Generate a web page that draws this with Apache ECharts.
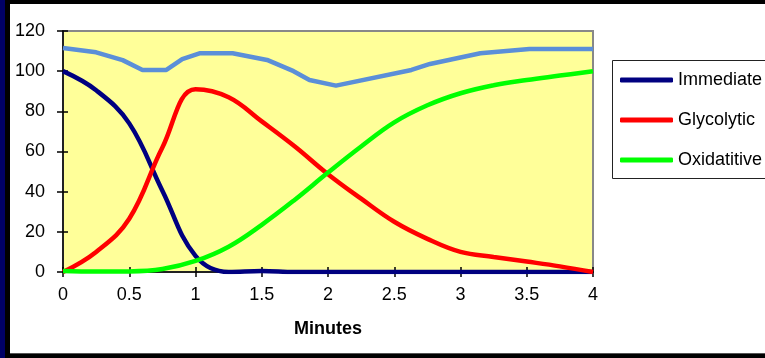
<!DOCTYPE html>
<html>
<head>
<meta charset="utf-8">
<script src="https://cdn.jsdelivr.net/npm/echarts@6/dist/echarts.min.js"></script>
<style>
  html, body { margin: 0; padding: 0; background: #000; }
  #chart { width: 765px; height: 358px; }
</style>
</head>
<body>
<div id="chart"></div>
<script>
// Energy system contributions over time, sampled every quarter minute
const minutes = [0, 0.25, 0.5, 0.75, 1, 1.25, 1.5, 1.75, 2, 2.25, 2.5, 2.75, 3, 3.25, 3.5, 3.75, 4];
const immediate = [100, 90.5, 74, 40.5, 8, 0, 0.5, 0, 0, 0, 0, 0, 0, 0, 0, 0, 0];
const glycolytic = [0, 10, 26.5, 62, 91, 87, 75, 62.5, 48.7, 36.5, 25, 16.5, 10, 7.5, 5.2, 2.8, 0];
const oxidative = [0.5, 0.2, 0.3, 1.5, 5.5, 12.6, 23.5, 36, 49.5, 62.5, 74.5, 83, 89, 93, 95.6, 97.8, 100];
// Total line, straight segments between its own break points
const totalMinutes = [0, 0.25, 0.45, 0.6, 0.78, 0.9, 1.03, 1.28, 1.54, 1.74, 1.86, 2.06, 2.63, 2.77, 3.15, 3.52, 4];
const totalValues = [111.5, 109.4, 105.5, 100.6, 100.6, 106, 108.9, 108.9, 105.6, 100, 95.6, 92.8, 100.6, 103.6, 108.9, 111, 111];
const legendNames = ['Immediate', 'Glycolytic', 'Oxidatitive'];

const pairs = (xs, ys) => xs.map((x, i) => [x, ys[i]]);

const FONT = '"Liberation Sans", Arial, sans-serif';
const chart = echarts.init(document.getElementById('chart'), null, { renderer: 'canvas' });

const baseX = { type: 'value', min: 0, max: 4, interval: 0.5, splitLine: { show: false } };
const baseY = { type: 'value', min: 0, max: 120, interval: 20, splitLine: { show: false } };

chart.setOption({
  animation: false,
  backgroundColor: '#000',
  graphic: [
    { type: 'rect', z: -10, shape: { x: 0, y: 0, width: 5, height: 358 }, style: { fill: '#000066' } },
    { type: 'rect', z: -10, shape: { x: 10, y: 4, width: 755, height: 349 }, style: { fill: '#fff' } },
    { type: 'rect', z: -10, shape: { x: 10, y: 353, width: 755, height: 1 }, style: { fill: '#555' } },
    { type: 'rect', z: -5, shape: { x: 612.5, y: 60.5, width: 200, height: 118 }, style: { fill: '#fff', stroke: '#222', lineWidth: 1 } }
  ],
  grid: {
    left: 63, top: 31, right: 172, bottom: 86,
    show: true, backgroundColor: '#FFFF99', borderColor: '#888', borderWidth: 2
  },
  legend: {
    data: legendNames,
    orient: 'vertical',
    left: 620, top: 71,
    padding: 0,
    icon: 'roundRect',
    itemWidth: 53, itemHeight: 5,
    itemGap: 22,
    textStyle: { fontFamily: FONT, fontSize: 18, color: '#000', lineHeight: 18 }
  },
  xAxis: [
    Object.assign({}, baseX, {
      name: 'Minutes', nameLocation: 'middle', nameGap: 48,
      nameTextStyle: { fontFamily: FONT, fontSize: 18, fontWeight: 'bold', color: '#000' },
      axisLine: { lineStyle: { color: '#000', width: 1.5 } },
      axisTick: { length: 5, lineStyle: { color: '#000', width: 1.5 } },
      axisLabel: { margin: 14, fontFamily: FONT, fontSize: 18, color: '#000' }
    }),
    Object.assign({}, baseX, {
      position: 'bottom',
      axisLine: { show: false },
      axisTick: { inside: true, length: 5, lineStyle: { color: '#000', width: 1.5 } },
      axisLabel: { show: false }
    })
  ],
  yAxis: [
    Object.assign({}, baseY, {
      axisLine: { show: true, lineStyle: { color: '#000', width: 1.5 } },
      axisTick: { show: true, length: 6, lineStyle: { color: '#000', width: 1.5 } },
      axisLabel: { margin: 18, fontFamily: FONT, fontSize: 18, color: '#000' }
    }),
    Object.assign({}, baseY, {
      position: 'left',
      axisLine: { show: false },
      axisTick: { show: true, inside: true, length: 5, lineStyle: { color: '#000', width: 1.5 } },
      axisLabel: { show: false }
    })
  ],
  series: [
    { name: 'Immediate', type: 'line', data: pairs(minutes, immediate), smooth: 0.4, symbol: 'none',
      lineStyle: { color: '#000080', width: 4.5 }, itemStyle: { color: '#000080' } },
    { name: 'Glycolytic', type: 'line', data: pairs(minutes, glycolytic), smooth: 0.4, symbol: 'none',
      lineStyle: { color: '#FF0000', width: 4.5 }, itemStyle: { color: '#FF0000' } },
    { name: 'Oxidatitive', type: 'line', data: pairs(minutes, oxidative), smooth: 0.4, symbol: 'none',
      lineStyle: { color: '#00FF00', width: 4.5 }, itemStyle: { color: '#00FF00' } },
    { name: 'Total', type: 'line', data: pairs(totalMinutes, totalValues), smooth: false, symbol: 'none',
      lineStyle: { color: '#5B8FD8', width: 4.5 }, itemStyle: { color: '#5B8FD8' } }
  ]
});
</script>
</body>
</html>
